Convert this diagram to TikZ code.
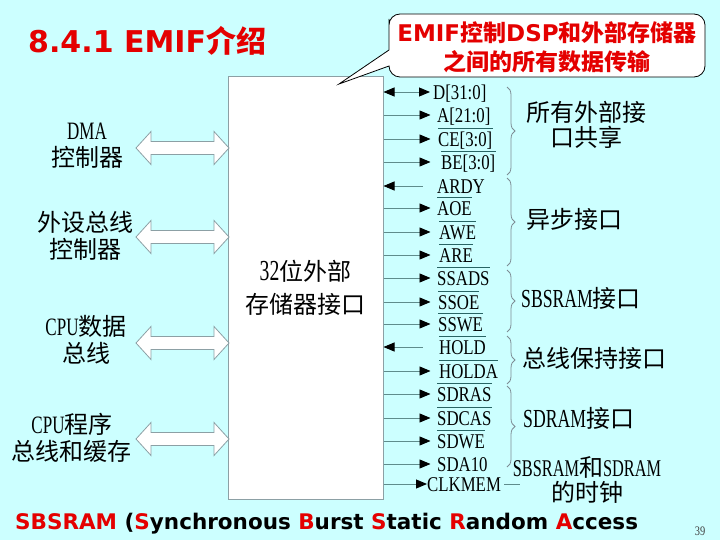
\documentclass[tikz,border=0pt]{standalone}
\usepackage{fontspec}
\usetikzlibrary{arrows.meta,decorations.pathreplacing,calc}
\setmainfont{DejaVu Sans}
\newfontfamily\cjk{Noto Sans CJK SC}
\newfontfamily\sigf[FakeStretch=0.8]{Liberation Serif}
\newfontfamily\narf[FakeStretch=0.68]{Liberation Serif}
\definecolor{bg}{RGB}{204,255,255}
\definecolor{ttl}{RGB}{228,0,0}
\definecolor{wire}{RGB}{95,140,140}
\definecolor{ovc}{RGB}{40,100,100}
\definecolor{frame}{RGB}{140,160,165}
\definecolor{brc}{RGB}{125,140,148}
\newcommand\dblarrow[1]{\draw[frame, line width=0.8pt, fill=white] (136,#1) -- (151,#1-16.5) -- (151,#1-6.5) -- (214,#1-6.5) -- (214,#1-16.5) -- (229,#1) -- (214,#1+16.5) -- (214,#1+6.5) -- (151,#1+6.5) -- (151,#1+16.5) -- cycle;}
\begin{document}
\begin{tikzpicture}[x=1pt,y=-1pt,
  sig/.style={inner sep=0pt, anchor=west, font=\sigf\fontsize{21}{22}\selectfont, text height=14.5pt, text depth=0pt},
  outw/.style={draw=wire, line width=0.9pt, -{Triangle[length=11pt,width=9pt,color=black]}},
  inw/.style={draw=wire, line width=0.9pt, {Triangle[length=11pt,width=9pt,color=black]}-},
  bothw/.style={draw=wire, line width=0.9pt, {Triangle[length=11pt,width=9pt,color=black]}-{Triangle[length=11pt,width=9pt,color=black]}},
  ovl/.style={draw=ovc, line width=1.5pt},
  lbl/.style={align=center, inner sep=0pt, font=\cjk\fontsize{24}{27}\selectfont},
  grp/.style={align=center, inner sep=0pt, font=\cjk\fontsize{24}{25}\selectfont},
  brace/.style={draw=brc, line width=0.8pt, decorate, decoration={brace, amplitude=8pt}}
]
\useasboundingbox (0,0) rectangle (720,540);
\fill[bg] (0,0) rectangle (720,540);

% title
\node[anchor=base west, inner sep=0pt, text=ttl, font=\bfseries\fontsize{30}{30}\selectfont] (title) at (28,53) {8.4.1 EMIF{\cjk\bfseries 介绍}};

% main box
\node[draw=frame, line width=1pt, fill=white, minimum width=155, minimum height=422, inner sep=0pt, align=center,
      font=\cjk\fontsize{24}{33}\selectfont] (emif) at (305.5,288) {{\narf\fontsize{29}{33}\selectfont 32}位外部\\存储器接口};

% callout
\draw[black, line width=0.8pt, fill=white] (389,50) -- (339,84) -- (389,66) [rounded corners=11pt] -- (389,77) -- (705,77) -- (705,14) -- (389,14) -- (389,30) [sharp corners] -- cycle;
\node[text=ttl, font=\bfseries\fontsize{23}{29}\selectfont, align=center, inner sep=0pt] (ctext) at (547,47) {EMIF{\cjk\bfseries 控制}DSP{\cjk\bfseries 和外部存储器}\\{\cjk\bfseries 之间的所有数据传输}};

% left labels and double arrows
\node[lbl] (lDMA) at (87,146) {{\narf\fontsize{25}{27}\selectfont DMA}\\控制器};
\node[lbl] (lPER) at (85,236) {外设总线\\控制器};
\node[lbl] (lCPUD) at (86,340) {{\narf\fontsize{25}{27}\selectfont CPU}数据\\总线};
\node[lbl] (lCPUP) at (72,438) {{\narf\fontsize{25}{27}\selectfont CPU}程序\\总线和缓存};
\dblarrow{148}
\dblarrow{237}
\dblarrow{343}
\dblarrow{439}

% signals
\node[sig] (sD) at (433,92) {D[31:0]};
\node[sig] (sA) at (437,115) {A[21:0]};
\node[sig] (sCE) at (438,139) {CE[3:0]};
\node[sig] (sBE) at (441,162) {BE[3:0]};
\node[sig] (sARDY) at (437,186) {ARDY};
\node[sig] (sAOE) at (437,208) {AOE};
\node[sig] (sAWE) at (439,232) {AWE};
\node[sig] (sARE) at (439,255) {ARE};
\node[sig] (sSSADS) at (437,278) {SSADS};
\node[sig] (sSSOE) at (438,302) {SSOE};
\node[sig] (sSSWE) at (438,324) {SSWE};
\node[sig] (sHOLD) at (439,347) {HOLD};
\node[sig] (sHOLDA) at (439,371) {HOLDA};
\node[sig] (sSDRAS) at (437,394) {SDRAS};
\node[sig] (sSDCAS) at (437,418) {SDCAS};
\node[sig] (sSDWE) at (437,441) {SDWE};
\node[sig] (sSDA) at (437,464) {SDA10};
\node[sig] (sCLK) at (427,484) {CLKMEM};

\draw[bothw] (emif.east |- sD) -- (430,92);
\foreach \s in {sA,sCE,sBE,sAOE,sAWE,sARE,sSSADS,sSSOE,sSSWE,sHOLDA,sSDRAS,sSDCAS,sSDWE,sSDA}
  \draw[outw] (emif.east |- \s.west) -- ($(emif.east |- \s.west)+(47,0)$);
\draw[inw] (emif.east |- sARDY) -- ++(39,0);
\draw[inw] (emif.east |- sHOLD) -- ++(39,0);
\draw[outw] (emif.east |- sCLK) -- (sCLK.west);
\draw[draw=wire, line width=0.9pt] ([xshift=3pt]sCLK.east) -- ++(16,0);

% overlines
\foreach \s in {sCE,sBE,sAOE,sAWE,sARE,sSSADS,sSSOE,sSSWE,sHOLD,sHOLDA,sSDRAS,sSDCAS,sSDWE}
  \draw[ovl] ([yshift=3pt]\s.north west) -- ([yshift=3pt]\s.north east);

% braces
\draw[brace] (507,87) -- (507,175);
\draw[brace] (507,178) -- (507,266);
\draw[brace] (507,270) -- (507,332);
\draw[brace] (507,336) -- (507,384);
\draw[brace] (507,386) -- (507,467);

% group labels
\node[grp] (g1) at (586,125) {所有外部接\\口共享};
\node[grp, anchor=west] (g2) at (526,219) {异步接口};
\node[grp, anchor=west] (g3) at (521,298) {{\narf\fontsize{26}{25}\selectfont SBSRAM}接口};
\node[grp, anchor=west] (g4) at (522,358) {总线保持接口};
\node[grp, anchor=west] (g5) at (523,418) {{\narf\fontsize{26}{25}\selectfont SDRAM}接口};
\node[grp, font=\cjk\fontsize{24}{25}\selectfont] (g6) at (587,480) {{\narf SBSRAM}和{\narf SDRAM}\\的时钟};

% footer
\node[anchor=base west, inner sep=0pt, font=\bfseries\fontsize{21.5}{22}\selectfont] (foot) at (15,529) {\textcolor{ttl}{SBSRAM} (\textcolor{ttl}{S}ynchronous \textcolor{ttl}{B}urst \textcolor{ttl}{S}tatic \textcolor{ttl}{R}andom \textcolor{ttl}{A}ccess};
\node[font=\sigf\fontsize{13}{13}\selectfont, text=black!75, inner sep=0pt] (pg) at (700,531) {39};
\end{tikzpicture}
\end{document}
